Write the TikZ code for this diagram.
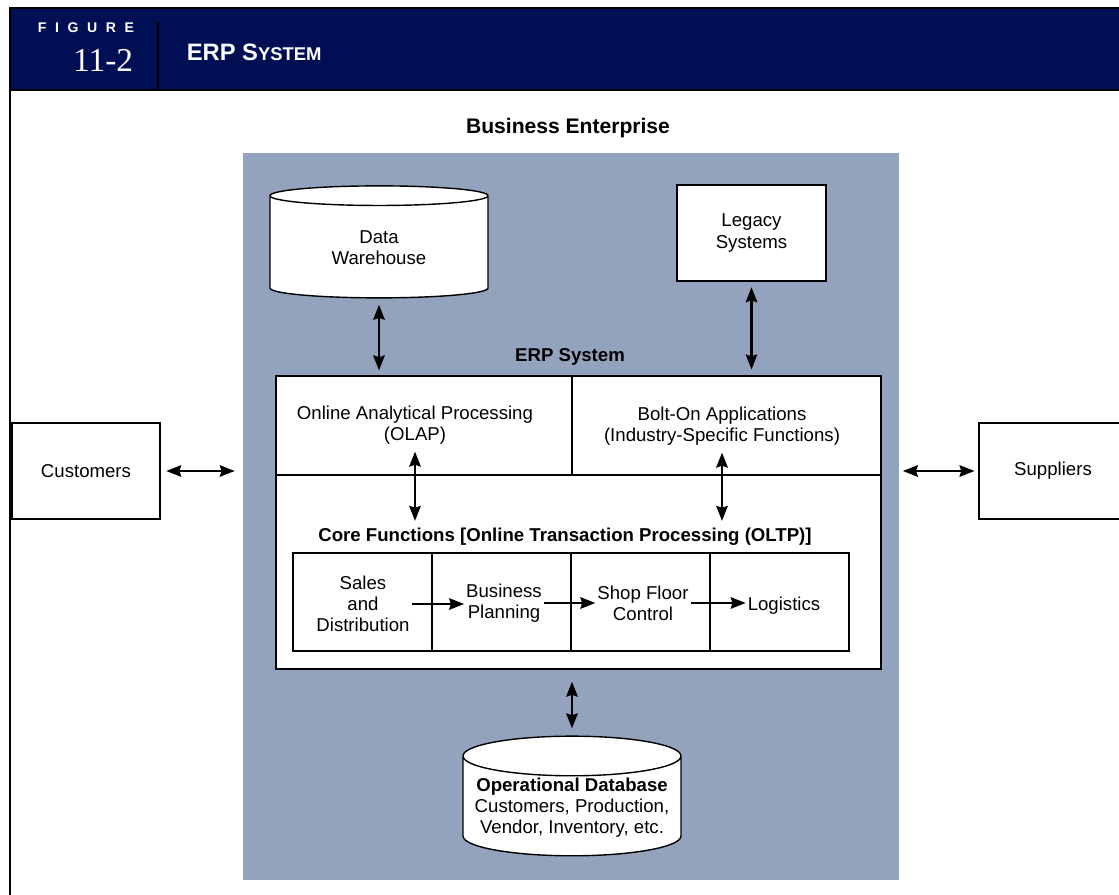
\documentclass[tikz,border=0pt]{standalone}
\usepackage{fontspec}
\setmainfont{Liberation Sans}
\newfontfamily\numfont{Liberation Serif}
\usetikzlibrary{shapes.geometric, positioning, arrows.meta, calc}
\definecolor{navy}{RGB}{0,14,84}
\definecolor{panel}{RGB}{148,163,189}
\def\u{0.02cm}
\tikzset{
  lbl/.style={align=center, inner sep=2pt, font=\fontsize{10.6}{12}\selectfont},
  head/.style={font=\bfseries\fontsize{10.6}{12}\selectfont},
  box/.style={draw, fill=white, line width=1.1pt},
  db/.style={cylinder, shape border rotate=90, aspect=0.2, draw, fill=white, line width=0.8pt,
    inner sep=1pt, minimum width=218*\u, minimum height=112*\u},
  biarrow/.style={{Stealth[length=8.5pt,width=6.5pt,inset=1pt]}-{Stealth[length=8.5pt,width=6.5pt,inset=1pt]}, line width=1.4pt},
  flow/.style={-{Stealth[length=8.5pt,width=6.5pt,inset=1pt]}, line width=1.4pt}
}
\begin{document}
\begin{tikzpicture}[x=\u, y=-\u, every node/.style={lbl}]
    \clip (0,0) rectangle (1119,895);
    \fill[white] (0,0) rectangle (1119,895);
    \fill[navy] (10,8) rectangle (1119,90);
    \draw[line width=1.5pt] (10,895) -- (10,8) -- (1119,8);
    \draw[line width=1.5pt] (10,90) -- (1119,90);
    \draw[line width=1.5pt] (158,22) -- (158,90);
    \node[text=white, anchor=west, font=\bfseries\fontsize{8}{9}\selectfont] (figword) at (34,28)
        {F\kern4.9pt I\kern4.9pt G\kern4.9pt U\kern4.9pt R\kern4.9pt E};
    \node[text=white, anchor=east, font=\numfont\fontsize{19}{20}\selectfont] (fignum) at (137,60) {11-2};
    \node[text=white, anchor=west, font=\bfseries\fontsize{13.5}{15}\selectfont] (figtitle) at (183,52)
        {ERP S{\fontsize{10.5}{12}\selectfont YSTEM}};

    \node[fill=panel, minimum width=656*\u, minimum height=727*\u, inner sep=0] (ent) at (571,516.5) {};
    \node[font=\bfseries\fontsize{12}{14}\selectfont] (enttitle) at (568,128) {Business Enterprise};

    \node[db] (dw) at (379,248) {Data\\Warehouse};
    \node[box, minimum width=149*\u, minimum height=96*\u] (legacy) at (751.5,233) {Legacy\\Systems};

    \node[head] (erptitle) at (570,357) {ERP System};
    \node[box, line width=1.4pt, minimum width=605*\u, minimum height=293*\u] (erp) at (578.5,522.5) {};
    \coordinate (split) at (572,475);
    \draw[line width=1.1pt] (erp.west |- split) -- (erp.east |- split);
    \draw[line width=1.1pt] (split) -- (split |- erp.north);
    \node (olap) at (415,425) {Online Analytical Processing\\(OLAP)};
    \node (bolt) at (722,426) {Bolt-On Applications\\(Industry-Specific Functions)};
    \node[head] (oltp) at (565,537) {Core Functions [Online Transaction Processing (OLTP)]};

    \foreach \i/\x in {1/362.5, 2/501.5, 3/640.5, 4/779.5} {
        \node[box, minimum width=139*\u, minimum height=98*\u] (cell\i) at (\x,602) {};
    }
    \node[inner sep=1pt] (sd) at (363,604) {Sales\\and\\Distribution};
    \node[inner sep=1pt] (bp) at (504,603) {Business\\Planning};
    \node[inner sep=1pt] (sfc) at (643,603) {Shop Floor\\Control};
    \node[inner sep=1pt] (lg) at (784,606) {Logistics};
    \foreach \a/\b in {sd/bp, bp/sfc, sfc/lg} {
        \draw[flow] (\a.east) -- (\a.east -| \b.west);
    }

    \node[db] (opdb) at (572,808) {\textbf{Operational Database}\\Customers, Production,\\Vendor, Inventory, etc.};

    \node[box, minimum width=148*\u, minimum height=96*\u] (cust) at (86,471) {Customers};
    \node[box, minimum width=148*\u, minimum height=96*\u] (supp) at (1053,471) {Suppliers};

    \draw[biarrow, shorten <=3.5pt, shorten >=2.5pt] (dw.south) -- (dw.south |- erp.north);
    \draw[biarrow, shorten <=3pt, shorten >=3pt] (legacy.south) -- (legacy.south |- erp.north);
    \draw[biarrow, shorten <=2pt, shorten >=2pt] (olap.south) -- (olap.south |- oltp.north);
    \draw[biarrow, shorten <=2pt, shorten >=2pt] (bolt.south) -- (bolt.south |- oltp.north);
    \draw[biarrow, shorten <=6.5pt, shorten >=4pt] (opdb.north |- erp.south) -- (opdb.north);
    \draw[biarrow, shorten <=3pt, shorten >=4.5pt] (cust.east) -- (cust.east -| ent.west);
    \draw[biarrow, shorten <=2pt, shorten >=2pt] (supp.west -| ent.east) -- (supp.west);
\end{tikzpicture}
\end{document}
